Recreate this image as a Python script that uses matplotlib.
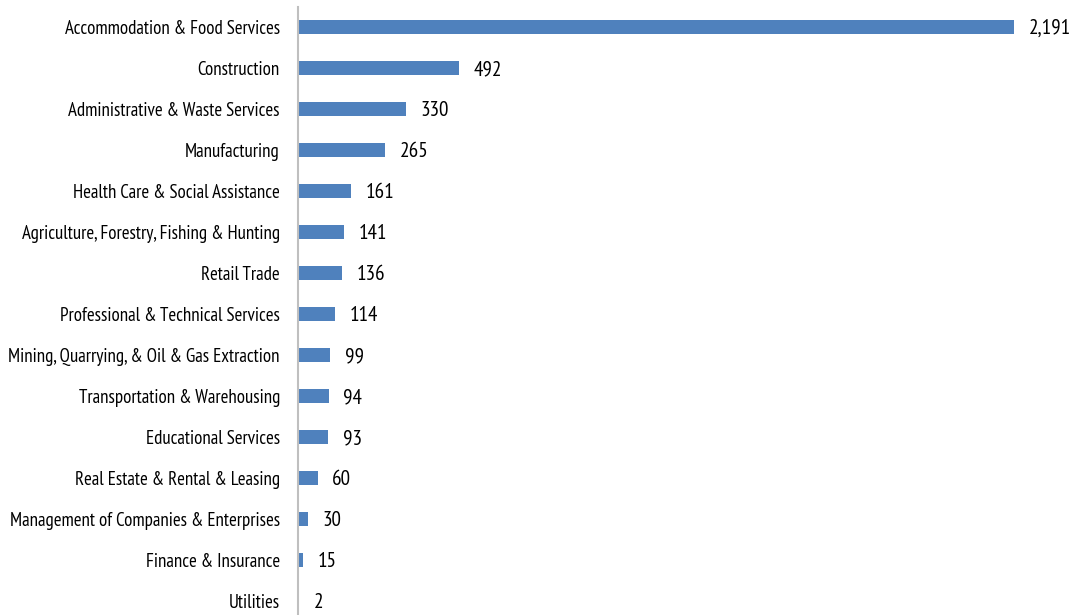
import matplotlib
matplotlib.use("Agg")
import matplotlib.pyplot as plt

industries = [
    "Accommodation & Food Services",
    "Construction",
    "Administrative & Waste Services",
    "Manufacturing",
    "Health Care & Social Assistance",
    "Agriculture, Forestry, Fishing & Hunting",
    "Retail Trade",
    "Professional & Technical Services",
    "Mining, Quarrying, & Oil & Gas Extraction",
    "Transportation & Warehousing",
    "Educational Services",
    "Real Estate & Rental & Leasing",
    "Management of Companies & Enterprises",
    "Finance & Insurance",
    "Utilities",
]
counts = [2191, 492, 330, 265, 161, 141, 136, 114, 99, 94, 93, 60, 30, 15, 2]

plt.rcParams["font.family"] = ["PT Sans Narrow", "DejaVu Sans"]

fig = plt.figure(figsize=(10.75, 6.15), dpi=100)
ax = fig.add_axes([298 / 1075, -6.5 / 615, (1014 - 298) / 1075, 1.0])

pos = list(range(len(industries)))
ax.barh(pos, counts, height=0.35, color="#4F81BD")
ax.set_ylim(len(industries) - 0.5, -0.5)
ax.set_xlim(0, max(counts))

for y, v in zip(pos, counts):
    ax.text(v + 45, y + 0.04, f"{v:,}", va="center", ha="left", fontsize=15.2,
            color="black", clip_on=False)

ax.set_yticks(pos)
ax.set_yticklabels(industries, fontsize=13.6)
ax.tick_params(axis="y", length=0, pad=13)
ax.set_xticks([])
for s in ["top", "right", "bottom"]:
    ax.spines[s].set_visible(False)
ax.spines["left"].set_color("#BFBFBF")
ax.spines["left"].set_linewidth(1.5)

fig.savefig("out.png", dpi=100)
